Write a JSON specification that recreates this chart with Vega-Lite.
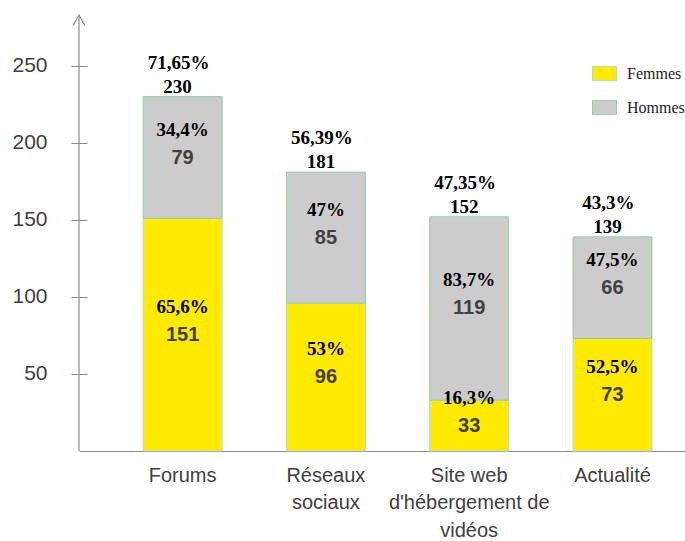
{
  "$schema": "https://vega.github.io/schema/vega-lite/v6.json",
  "autosize": {"type": "none"},
  "padding": {"left": 79, "top": 15, "right": 0, "bottom": 90},
  "width": 606,
  "height": 436,
  "background": "white",
  "config": {"view": {"stroke": null}},
  "datasets": {
    "seg": [
      {"cat": "Forums", "sexe": "Femmes", "n": 151, "pct": "65,6%"},
      {"cat": "Forums", "sexe": "Hommes", "n": 79, "pct": "34,4%"},
      {"cat": "Réseaux sociaux", "sexe": "Femmes", "n": 96, "pct": "53%"},
      {"cat": "Réseaux sociaux", "sexe": "Hommes", "n": 85, "pct": "47%"},
      {"cat": "Site web d'hébergement de vidéos", "sexe": "Femmes", "n": 33, "pct": "16,3%"},
      {"cat": "Site web d'hébergement de vidéos", "sexe": "Hommes", "n": 119, "pct": "83,7%"},
      {"cat": "Actualité", "sexe": "Femmes", "n": 73, "pct": "52,5%"},
      {"cat": "Actualité", "sexe": "Hommes", "n": 66, "pct": "47,5%"}
    ],
    "tot": [
      {"cat": "Forums", "total": 230, "tpct": "71,65%"},
      {"cat": "Réseaux sociaux", "total": 181, "tpct": "56,39%"},
      {"cat": "Site web d'hébergement de vidéos", "total": 152, "tpct": "47,35%"},
      {"cat": "Actualité", "total": 139, "tpct": "43,3%"}
    ],
    "origin": [{"x": 0, "y0": 0, "y1": 283}]
  },
  "layer": [
    {
      "layer": [
        {
          "data": {"name": "seg"},
          "mark": {"type": "bar", "strokeWidth": 1},
          "encoding": {
            "x": {
              "field": "cat", "type": "nominal", "sort": null,
              "scale": {"paddingInner": 0.449, "paddingOuter": 0.339, "align": 0.66},
              "axis": {
                "title": null, "ticks": false, "domainColor": "#8c8c8c", "domainWidth": 1.2,
                "labelAngle": 0, "labelFont": "Liberation Sans", "labelFontSize": 20,
                "labelColor": "#404040", "labelPadding": 14, "labelLineHeight": 27.5,
                "labelBaseline": "top",
                "labelExpr": "datum.value == 'Réseaux sociaux' ? ['Réseaux', 'sociaux'] : (datum.value == \"Site web d'hébergement de vidéos\" ? ['Site web', \"d'hébergement de\", 'vidéos'] : datum.value)"
              }
            },
            "y": {
              "field": "n", "type": "quantitative", "stack": "zero",
              "scale": {"domain": [0, 283], "nice": false},
              "axis": {
                "title": null, "values": [50, 100, 150, 200, 250], "grid": false,
                "domain": false, "offset": -8, "tickSize": 16, "tickColor": "#8c8c8c",
                "labelPadding": 24, "labelFont": "Liberation Sans", "labelFontSize": 21,
                "labelColor": "#404040"
              }
            },
            "order": {"field": "sexe", "sort": "ascending"},
            "fill": {
              "field": "sexe", "type": "nominal",
              "scale": {"domain": ["Femmes", "Hommes"], "range": ["#FFEA00", "#CCCCCC"]},
              "legend": {
                "title": null, "orient": "none", "legendX": 513, "legendY": 46,
                "symbolType": "M-1,-0.6H1V0.6H-1Z", "symbolSize": 576, "symbolStrokeWidth": 1,
                "rowPadding": 12, "labelOffset": 10, "labelFont": "Liberation Serif",
                "labelFontSize": 16, "labelColor": "#222222", "labelLimit": 80
              }
            },
            "stroke": {
              "field": "sexe", "type": "nominal",
              "scale": {"domain": ["Femmes", "Hommes"], "range": ["#A8DCEA", "#8ED1A5"]},
              "legend": {
                "title": null, "orient": "none", "legendX": 513, "legendY": 46,
                "symbolType": "M-1,-0.6H1V0.6H-1Z", "symbolSize": 576, "symbolStrokeWidth": 1,
                "rowPadding": 12, "labelOffset": 10, "labelFont": "Liberation Serif",
                "labelFontSize": 16, "labelColor": "#222222", "labelLimit": 80
              }
            }
          }
        },
        {
          "data": {"name": "seg"},
          "transform": [
            {"stack": "n", "groupby": ["cat"], "sort": [{"field": "sexe"}], "as": ["s0", "s1"]},
            {"calculate": "(datum.s0 + datum.s1) / 2", "as": "mid"}
          ],
          "mark": {"type": "text", "font": "Liberation Sans", "fontWeight": "bold", "fontSize": 20, "color": "#404040", "baseline": "middle"},
          "encoding": {
            "x": {"field": "cat", "type": "nominal", "sort": null},
            "y": {"field": "mid", "type": "quantitative"},
            "text": {"field": "n"}
          }
        },
        {
          "data": {"name": "seg"},
          "transform": [
            {"stack": "n", "groupby": ["cat"], "sort": [{"field": "sexe"}], "as": ["s0", "s1"]},
            {"calculate": "(datum.s0 + datum.s1) / 2", "as": "mid"}
          ],
          "mark": {"type": "text", "font": "Liberation Serif", "fontWeight": "bold", "fontSize": 19, "color": "#000000", "baseline": "middle", "dy": -28},
          "encoding": {
            "x": {"field": "cat", "type": "nominal", "sort": null},
            "y": {"field": "mid", "type": "quantitative"},
            "text": {"field": "pct"}
          }
        },
        {
          "data": {"name": "tot"},
          "mark": {"type": "text", "font": "Liberation Serif", "fontWeight": "bold", "fontSize": 19, "color": "#000000", "baseline": "middle", "dy": -10, "dx": -5},
          "encoding": {
            "x": {"field": "cat", "type": "nominal", "sort": null},
            "y": {"field": "total", "type": "quantitative"},
            "text": {"field": "total"}
          }
        },
        {
          "data": {"name": "tot"},
          "mark": {"type": "text", "font": "Liberation Serif", "fontWeight": "bold", "fontSize": 19, "color": "#000000", "baseline": "middle", "dy": -34, "dx": -4},
          "encoding": {
            "x": {"field": "cat", "type": "nominal", "sort": null},
            "y": {"field": "total", "type": "quantitative"},
            "text": {"field": "tpct"}
          }
        }
      ]
    },
    {
      "data": {"name": "origin"},
      "layer": [
        {
          "mark": {"type": "rule", "color": "#8c8c8c", "strokeWidth": 1.2},
          "encoding": {
            "x": {"field": "x", "type": "quantitative", "scale": {"domain": [0, 1]}, "axis": null},
            "y": {"field": "y0", "type": "quantitative"},
            "y2": {"field": "y1"}
          }
        },
        {
          "mark": {"type": "point", "shape": "M-1,1.8L0,0L1,1.8", "size": 144, "filled": false, "stroke": "#8c8c8c", "strokeWidth": 1.2, "opacity": 1},
          "encoding": {
            "x": {"field": "x", "type": "quantitative", "scale": {"domain": [0, 1]}, "axis": null},
            "y": {"field": "y1", "type": "quantitative"}
          }
        }
      ]
    }
  ],
  "resolve": {"scale": {"x": "independent"}}
}
